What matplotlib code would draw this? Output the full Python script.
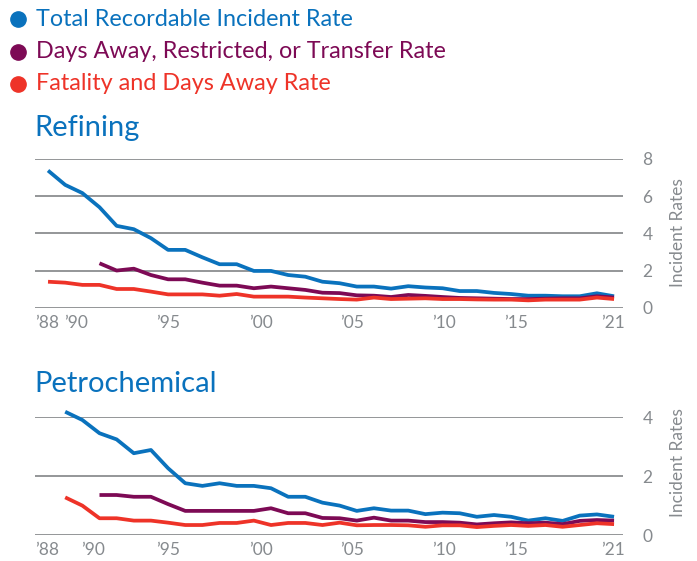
import matplotlib
matplotlib.use("Agg")
import matplotlib.pyplot as plt
from matplotlib.lines import Line2D

plt.rcParams["font.family"] = ["Lato", "DejaVu Sans"]

# Series labels and colours
series_names = ["Total Recordable Incident Rate",
                "Days Away, Restricted, or Transfer Rate",
                "Fatality and Days Away Rate"]
series_colors = ["#0a72bd", "#7d0a55", "#ee3328"]

# Refining rates, 1988-2021 (DART starts 1991)
ref_years = list(range(1988, 2022))
ref_trir = [7.38, 6.61, 6.17, 5.41, 4.41, 4.23, 3.75, 3.12, 3.12, 2.72,
            2.35, 2.35, 1.99, 1.99, 1.77, 1.68, 1.41, 1.33, 1.15, 1.15,
            1.04, 1.17, 1.10, 1.06, 0.91, 0.91, 0.81, 0.75, 0.66, 0.66,
            0.63, 0.63, 0.79, 0.63]
ref_dart_years = list(range(1991, 2022))
ref_dart = [2.40, 2.01, 2.11, 1.77, 1.54, 1.54, 1.36, 1.20, 1.20, 1.06,
            1.15, 1.06, 0.97, 0.82, 0.80, 0.68, 0.66, 0.59, 0.70, 0.65,
            0.59, 0.54, 0.52, 0.50, 0.48, 0.48, 0.50, 0.52, 0.52, 0.63,
            0.56]
ref_fda = [1.41, 1.36, 1.24, 1.24, 1.02, 1.02, 0.88, 0.73, 0.73, 0.73,
           0.66, 0.75, 0.61, 0.61, 0.61, 0.56, 0.52, 0.48, 0.45, 0.56,
           0.48, 0.50, 0.52, 0.48, 0.48, 0.46, 0.45, 0.45, 0.41, 0.45,
           0.45, 0.45, 0.56, 0.48]

# Petrochemical rates, 1989-2021 (DART starts 1991)
pet_years = list(range(1989, 2022))
pet_trir = [4.19, 3.91, 3.46, 3.25, 2.78, 2.89, 2.27, 1.76, 1.67, 1.76,
            1.67, 1.67, 1.59, 1.30, 1.30, 1.10, 1.00, 0.82, 0.91, 0.83,
            0.83, 0.71, 0.76, 0.74, 0.62, 0.68, 0.62, 0.49, 0.57, 0.48,
            0.66, 0.70, 0.62]
pet_dart_years = list(range(1991, 2022))
pet_dart = [1.36, 1.36, 1.30, 1.30, 1.05, 0.82, 0.82, 0.82, 0.82, 0.82,
            0.91, 0.74, 0.74, 0.58, 0.57, 0.49, 0.59, 0.49, 0.49, 0.44,
            0.44, 0.42, 0.36, 0.40, 0.43, 0.40, 0.42, 0.37, 0.48, 0.51,
            0.49]
pet_fda = [1.28, 1.00, 0.57, 0.57, 0.49, 0.49, 0.42, 0.34, 0.34, 0.41,
           0.41, 0.49, 0.34, 0.41, 0.41, 0.34, 0.42, 0.33, 0.34, 0.34,
           0.33, 0.28, 0.33, 0.33, 0.27, 0.31, 0.34, 0.31, 0.34, 0.28,
           0.34, 0.40, 0.37]

# x tick labels and where they sit along the year axis
tick_labels = ["\u201988", "\u201990", "\u201995", "\u201900",
               "\u201905", "\u201910", "\u201915", "\u201921"]
ref_tick_pos = [1987.95, 1989.65, 1995.0, 2000.4, 2005.7, 2011.1, 2015.3, 2020.95]
pet_tick_pos = [1987.95, 1990.6, 1995.0, 2000.4, 2005.7, 2011.1, 2015.3, 2020.95]

grid_color = "#77797c"
text_gray = "#868a8e"

fig = plt.figure(figsize=(6.97, 5.61), dpi=100)


def style_axes(ax, yticks, ymax, tick_pos):
    ax.set_xlim(1987.24, 2021.52)
    ax.set_ylim(0, ymax)
    for s in ax.spines.values():
        s.set_visible(False)
    ax.yaxis.tick_right()
    ax.set_yticks(yticks)
    ax.set_yticklabels([str(v) for v in yticks])
    ax.set_xticks(tick_pos)
    ax.set_xticklabels(tick_labels)
    ax.tick_params(axis="y", length=0, pad=14, labelsize=12.5, labelcolor=text_gray)
    ax.tick_params(axis="x", length=0, pad=5, labelsize=12.5, labelcolor=text_gray)
    for v in yticks:
        ax.axhline(v, color=grid_color, lw=1.1, zorder=1)
    ax.set_facecolor("none")


def draw(ax, years, trir, dart_years, dart, fda_years, fda):
    for x, y, c in [(years, trir, series_colors[0]),
                    (dart_years, dart, series_colors[1]),
                    (fda_years, fda, series_colors[2])]:
        ax.plot(x, y, color=c, lw=2.7, solid_joinstyle="round",
                solid_capstyle="butt", clip_on=False, zorder=3)


ax1 = fig.add_axes([0.0502, 0.4510, 0.8436, 0.2656])
style_axes(ax1, [0, 2, 4, 6, 8], 8, ref_tick_pos)
draw(ax1, ref_years, ref_trir, ref_dart_years, ref_dart, ref_years, ref_fda)

ax2 = fig.add_axes([0.0502, 0.0463, 0.8436, 0.2098])
style_axes(ax2, [0, 2, 4], 4, pet_tick_pos)
draw(ax2, pet_years, pet_trir, pet_dart_years, pet_dart, pet_years, pet_fda)

# rotated axis titles on the right
fig.text(678 / 697, 1 - 233 / 561, "Incident Rates", rotation=90,
         ha="center", va="center", fontsize=12.5, color=text_gray)
fig.text(678 / 697, 1 - 463 / 561, "Incident Rates", rotation=90,
         ha="center", va="center", fontsize=12.5, color=text_gray)

# panel titles
fig.text(34 / 697, 1 - 128 / 561, "Refining", ha="left", va="center",
         fontsize=21, color=series_colors[0])
fig.text(34 / 697, 1 - 384 / 561, "Petrochemical", ha="left", va="center",
         fontsize=21, color=series_colors[0])

# legend: coloured dot followed by coloured label
for i, (name, c) in enumerate(zip(series_names, series_colors)):
    yy = 1 - (19 + 32.5 * i) / 561
    fig.add_artist(Line2D([18 / 697], [yy], marker="o", markersize=11,
                          color=c, transform=fig.transFigure))
    fig.text(36 / 697, yy, name, ha="left", va="center",
             fontsize=16.8, color=c)

fig.savefig("out.png", dpi=100)
